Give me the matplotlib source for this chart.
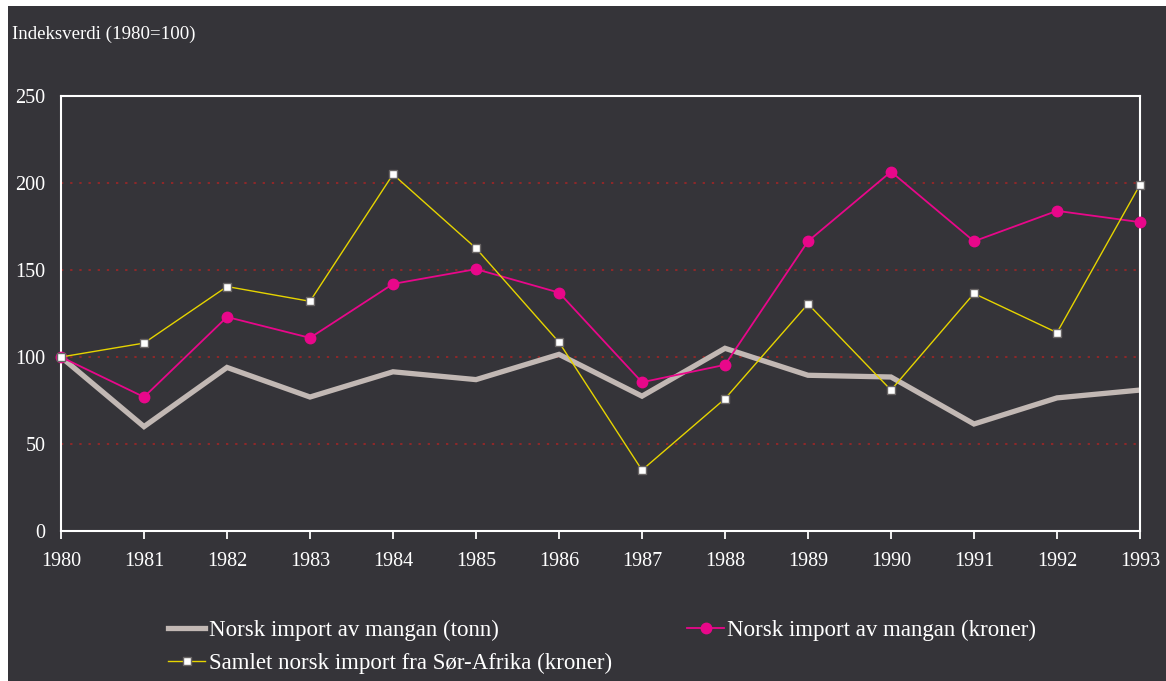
import matplotlib
matplotlib.use("Agg")
import matplotlib.pyplot as plt
from matplotlib.patches import Rectangle

years = [1980, 1981, 1982, 1983, 1984, 1985, 1986, 1987, 1988, 1989, 1990, 1991, 1992, 1993]
tonn = [100, 60, 94, 77, 91.5, 87, 101.5, 77.5, 105, 89.5, 88.5, 61.5, 76.5, 81]
kroner = [100, 77, 123, 111, 142, 150.5, 137, 85.5, 95.5, 166.5, 206.5, 166.5, 184, 177.5]
samlet = [100, 108, 140.5, 132, 205, 162.5, 108.5, 35, 76, 130.5, 81, 136.5, 114, 199]
yticks = [0, 50, 100, 150, 200, 250]

label_tonn = "Norsk import av mangan (tonn)"
label_kroner = "Norsk import av mangan (kroner)"
label_samlet = "Samlet norsk import fra Sør-Afrika (kroner)"
ylabel = "Indeksverdi (1980=100)"

BG = "#353439"
W, H = 1166, 681
plt.rcParams['font.family'] = ['Liberation Serif', 'DejaVu Serif']

fig = plt.figure(figsize=(W / 100, H / 100), dpi=100)
fig.patch.set_facecolor("white")
fig.patches.append(Rectangle((8 / W, 0), 1 - 8 / W, 1 - 6 / H, transform=fig.transFigure,
                             facecolor=BG, edgecolor="none", zorder=-10))

ax = fig.add_axes([61 / W, 1 - 531 / H, (1140 - 61) / W, (531 - 96) / H])
ax.set_facecolor(BG)

for y in [50, 100, 150, 200]:
    ax.axhline(y, color="#a82525", lw=1.1, ls=(0, (1.5, 4.5)), zorder=1)

l1, = ax.plot(years, tonn, color="#c2b8b4", lw=3.8, solid_joinstyle="miter", zorder=2)
l2, = ax.plot(years, kroner, color="#e8078a", lw=1.3, marker="o", markersize=7.5,
              markerfacecolor="#e8078a", markeredgecolor="#e8078a", zorder=3, clip_on=False)
l3, = ax.plot(years, samlet, color="#e6d400", lw=1.0, marker="s", markersize=6,
              markerfacecolor="white", markeredgecolor="#6a6666", markeredgewidth=1.0,
              zorder=4, clip_on=False)

ax.set_xlim(1980, 1993)
ax.set_ylim(0, 250)
ax.set_xticks(years)
ax.set_xticklabels([str(y) for y in years])
ax.set_yticks(yticks)
ax.set_yticklabels([str(v) for v in yticks])
for s in ax.spines.values():
    s.set_color("white")
    s.set_linewidth(1.5)
    s.set_zorder(2.5)
ax.tick_params(axis="x", colors="white", length=6, width=1.3, direction="out", pad=9, labelsize=14.5)
ax.tick_params(axis="y", colors="white", length=0, pad=11, labelsize=14.5)
for t in ax.get_xticklabels() + ax.get_yticklabels():
    t.set_color("white")

fig.text(12 / W, 1 - 34 / H, ylabel, color="white", fontsize=13.6, va="center", ha="left")

leg = fig.legend([l1, l3, l2], [label_tonn, label_samlet, label_kroner], ncol=2,
                 loc="upper left", bbox_to_anchor=(157 / W, 1 - 608 / H), frameon=False,
                 fontsize=16.5, labelcolor="white", handlelength=1.6, handletextpad=0.15,
                 columnspacing=3.3, labelspacing=0.55, borderpad=0)

fig.savefig("out.png", dpi=100, facecolor=fig.get_facecolor())
